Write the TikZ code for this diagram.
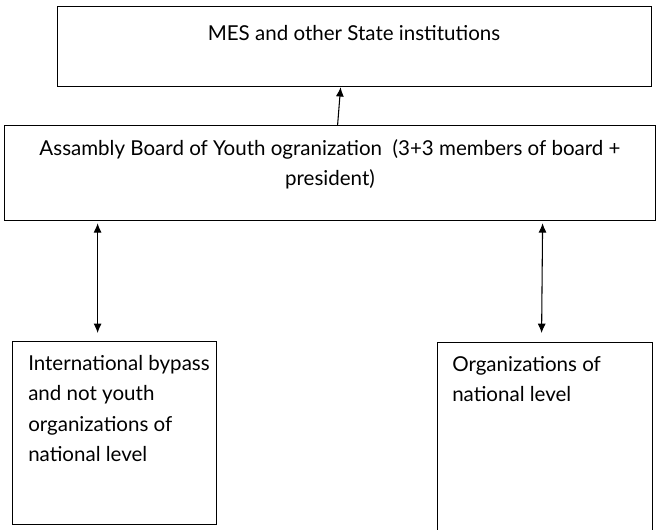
\documentclass[tikz,border=0pt]{standalone}
\usepackage{fontspec}
\setmainfont{Lato}
\usetikzlibrary{arrows.meta,positioning}
\newlength\px
\setlength\px{0.75pt}
\tikzset{
    box/.style={draw, line width=0.9pt, anchor=north west, inner sep=0pt}, % plain frame, no text
    txt/.style={font=\fontsize{15.4}{22.8}\selectfont, inner sep=0pt}, % text set inside the frames
    >={Latex[length=7pt,width=6pt]}, % filled heads
}
\tikzstyle{arrow} = [line width=0.8pt, ->]
\tikzstyle{twoway} = [line width=0.8pt, <->]

\begin{document}
\begin{tikzpicture}[x=\px, y=-\px]
    \useasboundingbox (0,0) rectangle (656,529);
    % frames
    \node[box, minimum width=594\px, minimum height=80\px] (mes) at (57,6) {};
    \node[box, minimum width=651\px, minimum height=95\px] (board) at (4,125) {};
    \node[box, minimum width=204\px, minimum height=183\px] (intl) at (12,341) {};
    \node[box, minimum width=215\px, minimum height=192\px] (natl) at (437,342) {};
    % texts
    \node[txt, anchor=base] (mes-text) at (354,40) {MES and other State institutions};
    \node[txt, anchor=north, align=center] (board-text) at (330,139)
        {Assambly Board of Youth ogranization\ \ (3+3 members of board +\\president)};
    \node[txt, anchor=north west, align=left] (intl-text) at (28,355)
        {International bypass\\and not youth\\organizations of\\national level};
    \node[txt, anchor=north west, align=left] (natl-text) at (452,356)
        {Organizations of\\national level};
    % links
    \draw[arrow] ([xshift=7.5\px]board.north) -- ([xshift=-14\px]mes.south);
    \draw[twoway] ([xshift=-232.5\px,yshift=-2\px]board.south) -- ([xshift=-17\px,yshift=8\px]intl.north);
    \draw[twoway] ([xshift=212.5\px,yshift=-2\px]board.south) -- ([xshift=-3.5\px,yshift=9\px]natl.north);
\end{tikzpicture}
\end{document}
